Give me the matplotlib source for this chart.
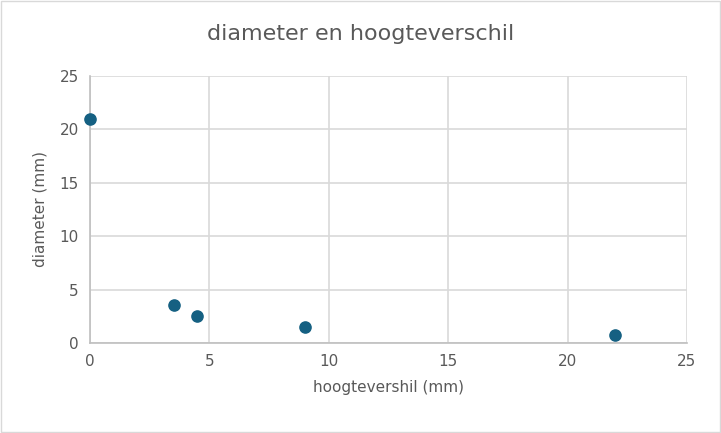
import matplotlib.pyplot as plt
from matplotlib.patches import Rectangle

hoogteverschil = [0, 3.5, 4.5, 9, 22]
diameter = [21, 3.55, 2.5, 1.5, 0.75]
ticks = [0, 5, 10, 15, 20, 25]

fig = plt.figure(figsize=(7.21, 4.33), dpi=100)
ax = fig.add_axes([0.1248, 0.2079, 0.828, 0.6166])

ax.scatter(hoogteverschil, diameter, s=65, color="#156082", zorder=3, clip_on=False)

ax.set_xlim(0, 25)
ax.set_ylim(0, 25)
ax.set_xticks(ticks)
ax.set_yticks(ticks)
ax.grid(True, color="#d9d9d9", linewidth=1.2)
ax.set_axisbelow(True)
for side in ["top", "right"]:
    ax.spines[side].set_visible(False)
for side in ["left", "bottom"]:
    ax.spines[side].set_color("#bfbfbf")
    ax.spines[side].set_linewidth(1.2)
ax.tick_params(length=0, labelsize=11, labelcolor="#595959", pad=8)

fig.text(0.5, 0.921, "diameter en hoogteverschil", fontsize=16, color="#595959",
         ha="center", va="center")
ax.set_xlabel("hoogtevershil (mm)", fontsize=11, color="#595959", labelpad=8)
ax.set_ylabel("diameter (mm)", fontsize=11, color="#595959", labelpad=9)

fig.patches.append(Rectangle((0.002, 0.003), 0.996, 0.994, transform=fig.transFigure,
                             fill=False, edgecolor="#d9d9d9", linewidth=1))

fig.savefig("out.png", dpi=100)
